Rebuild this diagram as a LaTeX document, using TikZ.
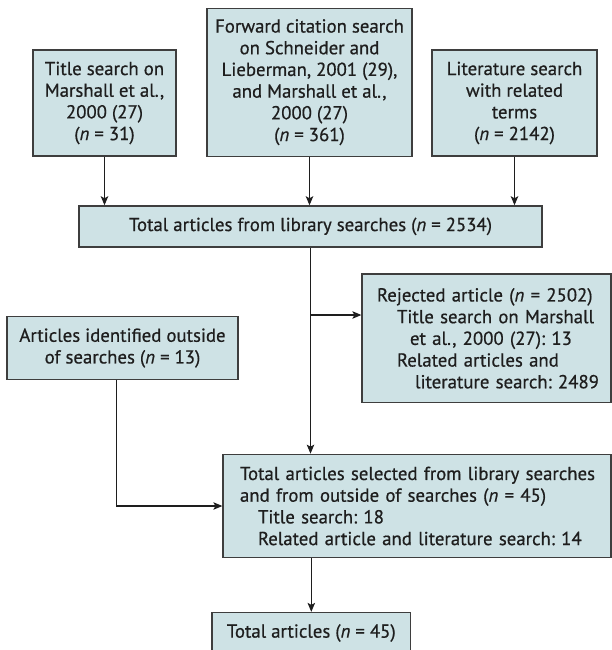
\documentclass[tikz,border=0pt]{standalone}
\usepackage{fontspec}
\setmainfont{PT Sans}[FakeBold=0.6]
\usetikzlibrary{arrows.meta}

\definecolor{boxfill}{RGB}{206,226,229}
\definecolor{boxline}{RGB}{62,62,62}
\newcommand{\nn}{\textit{n}}
\frenchspacing

\tikzset{every picture/.style={line width=1.1pt}}
\tikzset{
	flowbox/.style={draw=boxline, fill=boxfill, line width=1.3pt, inner sep=0pt, align=center,
		font=\fontsize{18.8}{21.7}\selectfont, text={rgb,255:red,30;green,30;blue,30}},
	flowarr/.style={draw={rgb,255:red,30;green,30;blue,30}, line width=1.1pt,
		-{Stealth[length=9pt,width=7.5pt,inset=2pt]}},
}

\begin{document}
\begin{tikzpicture}[x=1pt,y=1pt,yscale=-1,xscale=1]
	\useasboundingbox (0,0) rectangle (612,650);

	%Shape: Rectangle [search boxes]
	\node[flowbox, minimum width=143pt, minimum height=106pt] (title) at (104.5,103) {Title search on\\Marshall et al.,\\2000 (27)\\(\nn{} = 31)};
	\node[flowbox, minimum width=205pt, minimum height=148pt] (forward) at (309.5,82.2) {Forward citation search\\on Schneider and\\Lieberman, 2001 (29),\\and Marshall et al.,\\2000 (27)\\(\nn{} = 361)};
	\node[flowbox, minimum width=165pt, minimum height=106pt] (litsearch) at (514.5,103) {Literature search\\with related\\terms\\(\nn{} = 2142)};

	%Shape: Rectangle [totals and rejects]
	\node[flowbox, minimum width=463pt, minimum height=41pt] (total) at (310.5,226.4) {Total articles from library searches (\nn{} = 2534)};
	\node[flowbox, minimum height=128.7pt, text width=219pt, inner xsep=15pt, align=left] (reject) at (486.5,338.3) {\mbox{Rejected article (\nn{} = 2502)}\\
		\mbox{\hspace*{20pt}Title search on Marshall}\\
		\mbox{\hspace*{33pt}et al., 2000 (27): 13}\\
		\mbox{\hspace*{20pt}Related articles and}\\
		\mbox{\hspace*{38pt}literature search: 2489}};
	\node[flowbox, minimum width=231pt, minimum height=62.6pt] (outside) at (122.5,348) {Articles identified outside\\of searches (\nn{} = 13)};
	\node[flowbox, minimum height=103.4pt, text width=354pt, inner xsep=17pt, align=left] (selected) at (417,506) {\mbox{Total articles selected from library searches}\\
		\mbox{and from outside of searches (\nn{} = 45)}\\
		\mbox{\hspace*{18pt}Title search: 18}\\
		\mbox{\hspace*{18pt}Related article and literature search: 14}};
	\node[flowbox, minimum width=198.6pt, minimum height=41pt] (final) at (311.3,633) {Total articles (\nn{} = 45)};

	%Straight Lines
	\coordinate (split) at (total |- 0,315);
	\draw[flowarr] (title) -- (title |- total.north);
	\draw[flowarr] (forward) -- (forward |- total.north);
	\draw[flowarr] (litsearch) -- (litsearch |- total.north);
	\draw[flowarr] (total) -- (total |- selected.north);
	\draw[flowarr] (split) -- (split -| reject.west);
	\draw[flowarr] ([xshift=-6pt]outside.south) |- (selected.west);
	\draw[flowarr] (final.north |- selected.south) -- (final);

\end{tikzpicture}
\end{document}
